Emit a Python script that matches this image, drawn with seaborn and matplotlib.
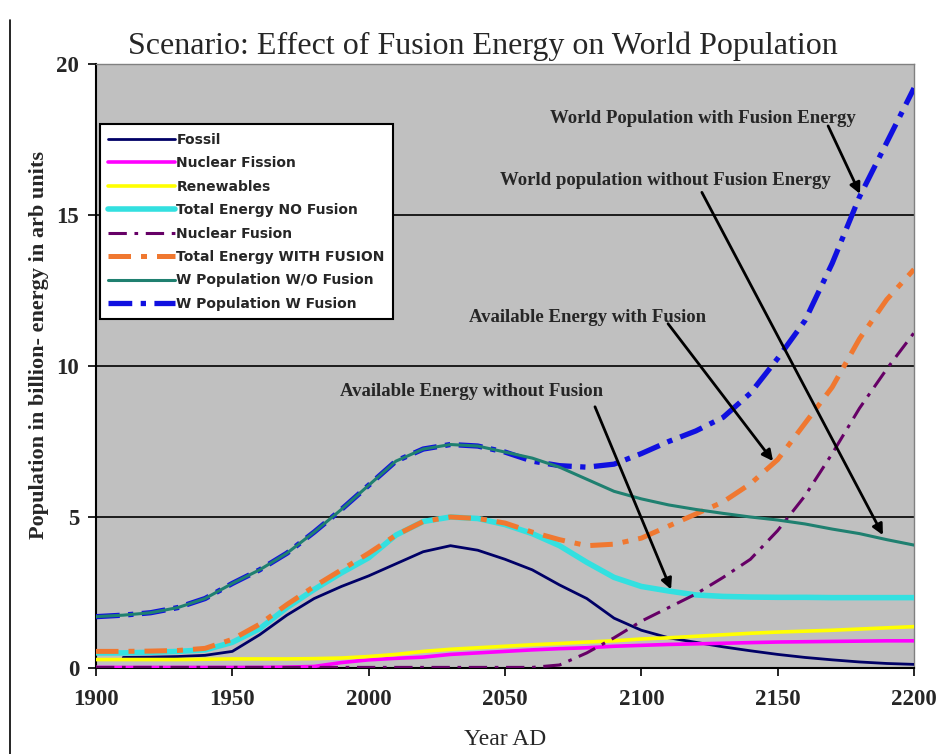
import numpy as np
import pandas as pd
import matplotlib
matplotlib.use("Agg")
import matplotlib.pyplot as plt
import seaborn as sns
from matplotlib.lines import Line2D

# ---------------- data ----------------
YEARS = list(range(1900, 2201, 10))

FOSSIL = [np.nan, 0.35, 0.36, 0.38, 0.42, 0.55, 1.10, 1.75, 2.30, 2.70, 3.05,
          3.45, 3.85, 4.05, 3.90, 3.60, 3.25, 2.75, 2.30, 1.65, 1.25, 1.00,
          0.85, 0.70, 0.57, 0.45, 0.35, 0.27, 0.20, 0.15, 0.12]
FISSION = [0.02, 0.02, 0.02, 0.02, 0.02, 0.02, 0.02, 0.03, 0.05, 0.18, 0.27,
           0.32, 0.36, 0.45, 0.50, 0.55, 0.60, 0.64, 0.67, 0.72, 0.75, 0.78,
           0.80, 0.82, 0.84, 0.86, 0.87, 0.88, 0.89, 0.90, 0.90]
RENEWABLES = [0.28, 0.28, 0.28, 0.28, 0.29, 0.30, 0.30, 0.30, 0.31, 0.33, 0.38,
              0.45, 0.55, 0.62, 0.67, 0.72, 0.77, 0.81, 0.86, 0.90, 0.96, 1.00,
              1.05, 1.10, 1.15, 1.19, 1.22, 1.25, 1.29, 1.33, 1.37]
TOTAL_NO_FUSION = [0.50, 0.50, 0.52, 0.55, 0.60, 0.85, 1.30, 2.00, 2.60, 3.15,
                   3.65, 4.40, 4.85, 5.00, 4.95, 4.75, 4.45, 4.05, 3.50, 3.00,
                   2.70, 2.55, 2.42, 2.37, 2.35, 2.34, 2.34, 2.33, 2.33, 2.33,
                   2.33]
FUSION = [0.02, 0.02, 0.02, 0.02, 0.02, 0.02, 0.02, 0.02, 0.02, 0.02, 0.02,
          0.02, 0.02, 0.02, 0.02, 0.02, 0.02, 0.10, 0.50, 1.00, 1.55, 2.00,
          2.45, 3.00, 3.60, 4.55, 5.70, 7.10, 8.60, 9.90, 11.10]
TOTAL_WITH_FUSION = [0.55, 0.55, 0.56, 0.58, 0.65, 0.95, 1.45, 2.10, 2.70, 3.25,
                     3.80, 4.40, 4.85, 5.00, 4.95, 4.80, 4.50, 4.25, 4.05, 4.10,
                     4.30, 4.70, 5.10, 5.50, 6.10, 6.90, 8.10, 9.30, 10.90,
                     12.20, 13.20]
POP_NO_FUSION = [1.70, 1.75, 1.83, 2.00, 2.30, 2.80, 3.25, 3.80, 4.50, 5.25,
                 6.05, 6.85, 7.25, 7.40, 7.35, 7.15, 6.95, 6.65, 6.25, 5.85,
                 5.60, 5.40, 5.25, 5.12, 5.00, 4.90, 4.77, 4.60, 4.45, 4.25,
                 4.07]
POP_WITH_FUSION = [1.70, 1.75, 1.83, 2.00, 2.30, 2.80, 3.25, 3.80, 4.50, 5.25,
                   6.05, 6.85, 7.25, 7.40, 7.35, 7.15, 6.85, 6.70, 6.65, 6.75,
                   7.10, 7.50, 7.85, 8.30, 9.10, 10.25, 11.50, 13.40, 15.60,
                   17.40, 19.20]

LABELS = ["Fossil", "Nuclear Fission", "Renewables", "Total Energy NO Fusion",
          "Nuclear Fusion", "Total Energy WITH FUSION",
          "W Population W/O Fusion", "W Population W Fusion"]
X_TICKS = [1900, 1950, 2000, 2050, 2100, 2150, 2200]
Y_TICKS = [0, 5, 10, 15, 20]

TITLE = "Scenario: Effect of Fusion Energy on World Population"
ANNOTATIONS = [
    # text, text position, arrow start, arrow tip
    ("World Population with Fusion Energy", (2122.6, 18.2), (2168.5, 17.95), (2180.2, 15.7)),
    ("World population without Fusion Energy", (2109.0, 16.15), (2122.2, 15.75), (2188.6, 4.40)),
    ("Available Energy with Fusion", (2080.4, 11.6), (2109.8, 11.40), (2148.3, 6.85)),
    ("Available Energy without Fusion", (2037.9, 9.15), (2083.0, 8.65), (2110.9, 2.60)),
]

# ---------------- styling ----------------
sns.set_theme(style="white")
plt.rcParams['font.family'] = ['Liberation Serif', 'DejaVu Serif']

STYLES = [
    dict(color="#000066", lw=2.0, ls="-", z=3),
    dict(color="#FF00FF", lw=2.6, ls="-", z=3),
    dict(color="#FFFF00", lw=2.6, ls="-", z=3),
    dict(color="#33E0E0", lw=4.0, ls="-", z=4),
    dict(color="#660066", lw=2.2, ls=(0, (6, 2.5, 1.2, 2.5)), z=5),
    dict(color="#F07830", lw=3.6, ls=(0, (4.5, 2.0, 1.2, 2.0)), z=6),
    dict(color="#1F8070", lw=2.2, ls="-", z=8),
    dict(color="#1010E0", lw=3.8, ls=(0, (4.5, 1.6, 1.0, 1.6)), z=7),
]

SERIES = [FOSSIL, FISSION, RENEWABLES, TOTAL_NO_FUSION, FUSION,
          TOTAL_WITH_FUSION, POP_NO_FUSION, POP_WITH_FUSION]

fig = plt.figure(figsize=(9.36, 7.54), dpi=100)
fig.patch.set_facecolor("white")
ax = fig.add_axes([96 / 936, 1 - 668 / 754, 818 / 936, 604 / 754])
ax.set_facecolor("#C0C0C0")

handles = []
for label, vals, st in zip(LABELS, SERIES, STYLES):
    df = pd.DataFrame({"year": YEARS, "value": vals}).dropna()
    sns.lineplot(data=df, x="year", y="value", ax=ax, color=st["color"],
                 linewidth=st["lw"], linestyle=st["ls"], zorder=st["z"],
                 legend=False, estimator=None, sort=False)
    handles.append(Line2D([0], [0], color=st["color"], lw=st["lw"],
                          linestyle=st["ls"]))

ax.set_xlim(1900, 2200)
ax.set_ylim(0, 20)
ax.set_xticks(X_TICKS)
ax.set_yticks(Y_TICKS)
ax.set_xticklabels([str(t) for t in X_TICKS], fontsize=16.5, fontweight="bold")
ax.set_yticklabels([str(t) for t in Y_TICKS], fontsize=16.5, fontweight="bold")
ax.tick_params(axis="both", direction="out", length=6, width=1.2,
               color="black", pad=6)
ax.tick_params(axis="x", pad=9)
ax.tick_params(left=True, bottom=True)

for y in [5, 10, 15]:
    ax.axhline(y, color="black", lw=1.2, zorder=1)

ax.spines["left"].set_color("black")
ax.spines["left"].set_linewidth(1.5)
ax.spines["bottom"].set_color("black")
ax.spines["bottom"].set_linewidth(1.5)
ax.spines["top"].set_color("#808080")
ax.spines["right"].set_color("#808080")
ax.spines["top"].set_linewidth(1.0)
ax.spines["right"].set_linewidth(1.0)

ax.set_xlabel("Year AD", fontsize=17, labelpad=14)
ax.set_ylabel("Population in billion- energy in arb units", fontsize=16,
              fontweight="bold")
ax.yaxis.set_label_coords(-0.058, (668 - 345) / 604)

fig.text(483 / 936, 1 - 46 / 754, TITLE, fontsize=23, ha="center", va="center")

for text, tpos, start, tip in ANNOTATIONS:
    ax.text(tpos[0], tpos[1], text, fontsize=13.5, fontweight="bold",
            ha="center", va="center", zorder=10)
    ax.annotate("", xy=tip, xytext=start,
                arrowprops=dict(arrowstyle="-|>", color="black", lw=2.0,
                                mutation_scale=16, shrinkA=0, shrinkB=0),
                zorder=10)

leg = ax.legend(handles, LABELS, loc="upper left", bbox_to_anchor=(0.005, 0.9),
                prop=dict(family="DejaVu Sans", weight="bold", size=10),
                frameon=True, fancybox=False, framealpha=1, edgecolor="black",
                handlelength=4.8, handletextpad=0.1, labelspacing=0.68,
                borderpad=0.6, borderaxespad=0)
leg.get_frame().set_linewidth(1.5)
leg.set_zorder(20)

# page border line at left
fig.add_artist(Line2D([10 / 936, 10 / 936], [0, 1 - 20 / 754], color="black",
                      lw=1.2, transform=fig.transFigure))

fig.savefig("out.png", dpi=100, facecolor="white")
